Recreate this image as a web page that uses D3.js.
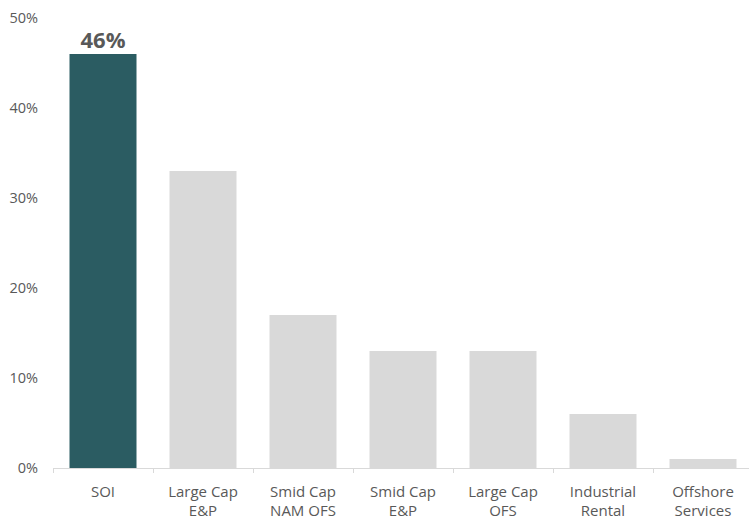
<!DOCTYPE html>
<html>
<head>
<meta charset="utf-8">
<script src="https://cdn.jsdelivr.net/npm/d3@7"></script>
<style>
  html, body { margin: 0; padding: 0; background: #fff; }
  svg { display: block; font-family: "Open Sans", sans-serif; }
</style>
</head>
<body>
<div id="chart"></div>
<script>
// Share values by peer group (percent)
const categories = [
  ["SOI"],
  ["Large Cap", "E&P"],
  ["Smid Cap", "NAM OFS"],
  ["Smid Cap", "E&P"],
  ["Large Cap", "OFS"],
  ["Industrial", "Rental"],
  ["Offshore", "Services"]
];
const values = [46, 33, 17, 13, 13, 6, 1];
const yTicks = [0, 10, 20, 30, 40, 50];
const highlightIndex = 0;

const width = 749, height = 520;
const margin = { top: 18, right: -4, bottom: 52, left: 53 };

const svg = d3.select("#chart").append("svg")
  .attr("width", width).attr("height", height);

const x = d3.scaleBand()
  .domain(d3.range(categories.length))
  .range([margin.left, width - margin.right])
  .paddingInner(0.33).paddingOuter(0.165);

const y = d3.scaleLinear()
  .domain([0, 50])
  .range([height - margin.bottom, margin.top]);

const textColor = "#595959";

// Bars
svg.append("g").selectAll("rect")
  .data(values)
  .join("rect")
  .attr("x", (d, i) => x(i))
  .attr("y", d => y(d))
  .attr("width", x.bandwidth())
  .attr("height", d => y(0) - y(d))
  .attr("fill", (d, i) => i === highlightIndex ? "#2B5C62" : "#D9D9D9");

// Value label over the highlighted bar
svg.append("text")
  .attr("x", x(highlightIndex) + x.bandwidth() / 2)
  .attr("y", y(values[highlightIndex]) - 6)
  .attr("text-anchor", "middle")
  .attr("font-size", 22)
  .attr("font-weight", "bold")
  .attr("fill", textColor)
  .text(values[highlightIndex] + "%");

// Y axis labels (no line)
const yAxis = svg.append("g")
  .attr("transform", `translate(${margin.left - 15},0)`)
  .call(d3.axisLeft(y).tickValues(yTicks).tickFormat(d => d + "%").tickSize(0).tickPadding(0));
yAxis.select(".domain").remove();
yAxis.selectAll("text")
  .attr("font-size", 14.5)
  .attr("font-family", "Open Sans, sans-serif")
  .attr("fill", textColor);

// X axis with boundary ticks between categories
const xAxisG = svg.append("g")
  .attr("transform", `translate(0,${y(0)})`);
xAxisG.append("line")
  .attr("x1", margin.left).attr("x2", width)
  .attr("y1", 0.5).attr("y2", 0.5)
  .attr("stroke", "#D9D9D9").attr("stroke-width", 1);
const step = x.step();
const bounds = d3.range(categories.length + 1).map(i => x(0) - x.paddingOuter() * step + i * step);
xAxisG.selectAll("line.tick")
  .data(bounds)
  .join("line")
  .attr("class", "tick")
  .attr("x1", d => Math.round(d) + 0.5).attr("x2", d => Math.round(d) + 0.5)
  .attr("y1", 0).attr("y2", 5)
  .attr("stroke", "#D9D9D9");

// Category labels (multi-line)
const labels = xAxisG.selectAll("text.cat")
  .data(categories)
  .join("text")
  .attr("class", "cat")
  .attr("x", (d, i) => x(i) + x.bandwidth() / 2)
  .attr("text-anchor", "middle")
  .attr("font-size", 15)
  .attr("fill", textColor);
labels.selectAll("tspan")
  .data(d => d)
  .join("tspan")
  .attr("x", function () { return d3.select(this.parentNode).attr("x"); })
  .attr("y", (d, j) => 28.5 + j * 19.5)
  .text(d => d);
</script>
</body>
</html>
